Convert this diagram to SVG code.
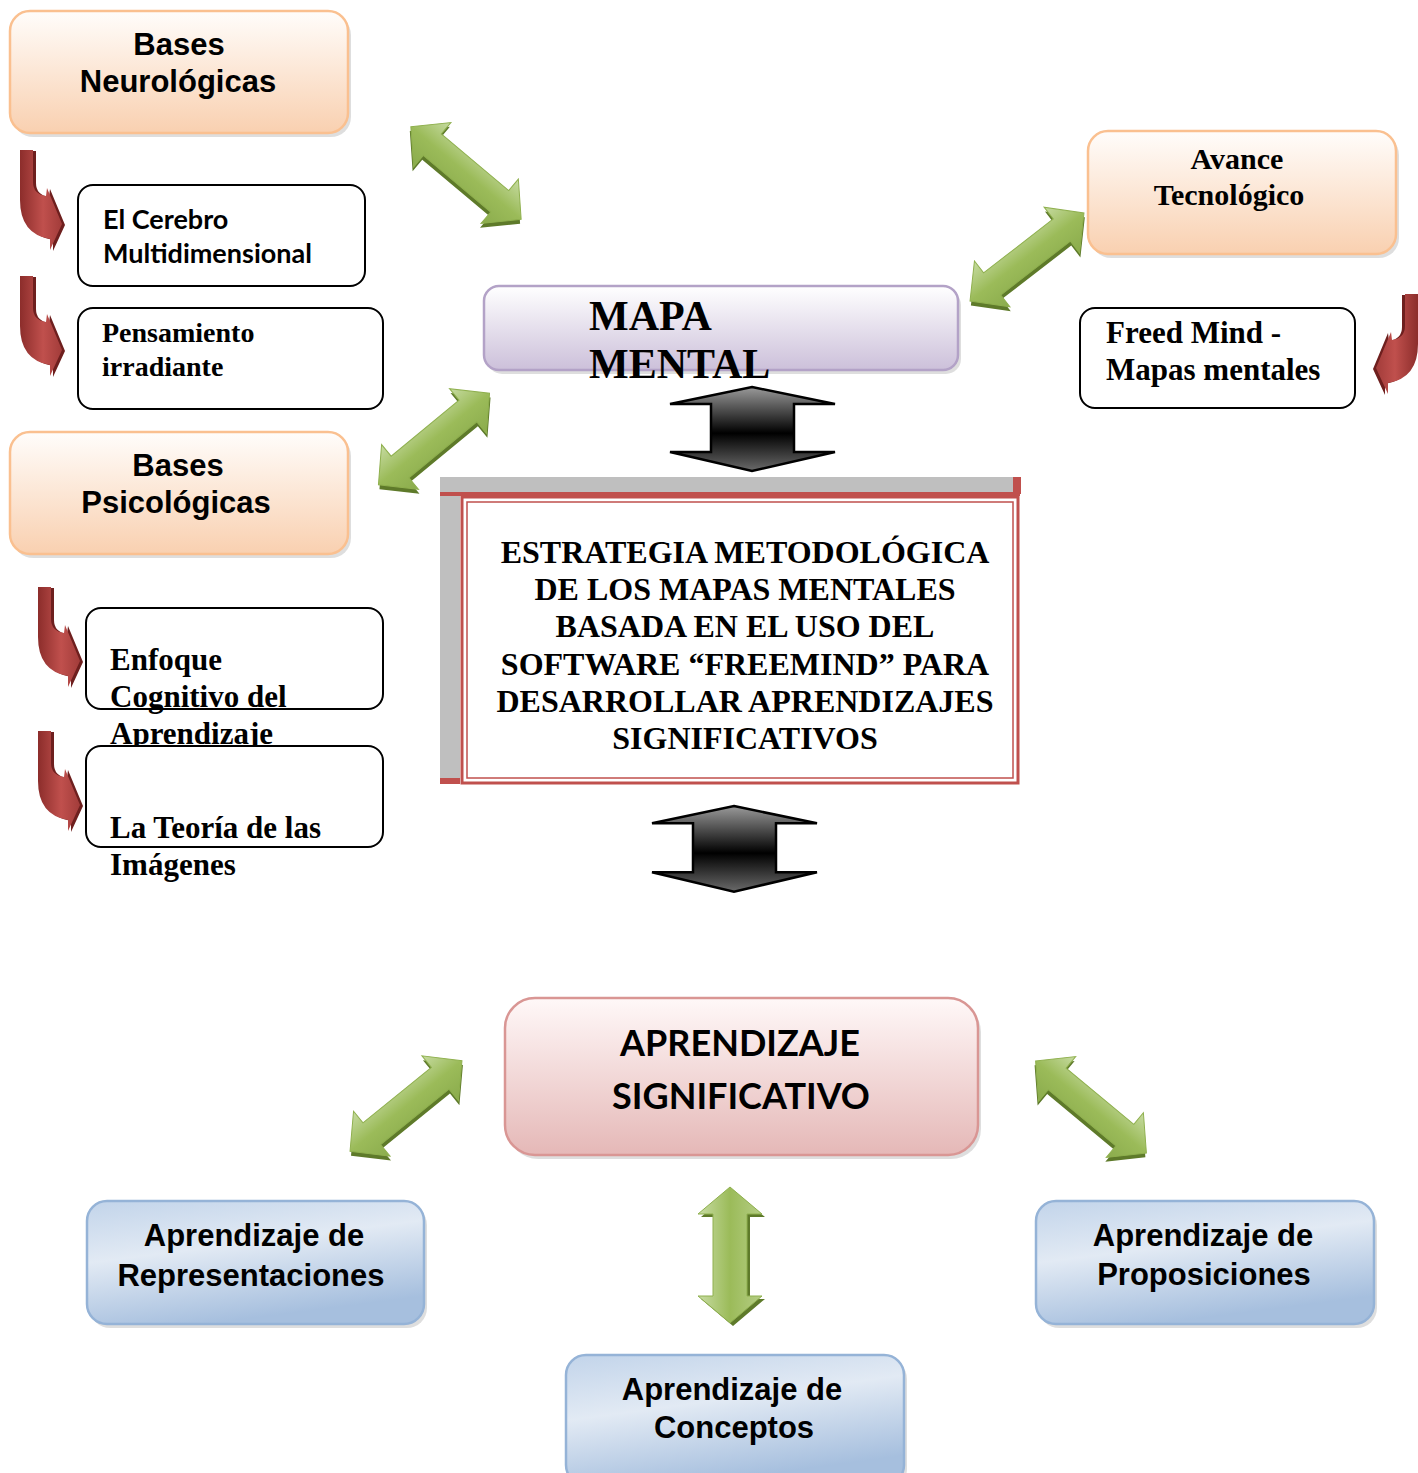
<svg xmlns="http://www.w3.org/2000/svg" xmlns:xlink="http://www.w3.org/1999/xlink" width="1418" height="1473" viewBox="0 0 1418 1473">
<defs>
<linearGradient id="gOrange" x1="0" y1="0" x2="0" y2="1"><stop offset="0" stop-color="#fffdfb"/><stop offset="1" stop-color="#f9d0b0"/></linearGradient>
<linearGradient id="gPurple" x1="0" y1="0" x2="0" y2="1"><stop offset="0" stop-color="#ffffff"/><stop offset="1" stop-color="#ccc0da"/></linearGradient>
<linearGradient id="gPink" x1="0" y1="0" x2="0" y2="1"><stop offset="0" stop-color="#fff8f8"/><stop offset="1" stop-color="#e5b8b7"/></linearGradient>
<linearGradient id="gBlue" x1="0" y1="0" x2="0.35" y2="1"><stop offset="0" stop-color="#c2d4ea"/><stop offset="0.45" stop-color="#e2eaf4"/><stop offset="1" stop-color="#a6bfde"/></linearGradient>
<linearGradient id="gGreen" gradientUnits="userSpaceOnUse" x1="0" y1="-30" x2="0" y2="30"><stop offset="0" stop-color="#c8dca4"/><stop offset="0.5" stop-color="#9bbb59"/><stop offset="1" stop-color="#8aab4c"/></linearGradient>
<linearGradient id="gGreenV" gradientUnits="userSpaceOnUse" x1="-32" y1="0" x2="32" y2="0"><stop offset="0" stop-color="#c8dca4"/><stop offset="0.5" stop-color="#9bbb59"/><stop offset="1" stop-color="#b5cd85"/></linearGradient>
<linearGradient id="gBlack" x1="0" y1="0" x2="0" y2="1"><stop offset="0" stop-color="#9a9a9a"/><stop offset="0.55" stop-color="#000000"/><stop offset="1" stop-color="#6a6a6a"/></linearGradient>
<linearGradient id="gRed" x1="0" y1="0" x2="1" y2="0"><stop offset="0" stop-color="#8c2d2b"/><stop offset="0.55" stop-color="#c0504d"/><stop offset="1" stop-color="#a23c3a"/></linearGradient>
<path id="dblArrow" d="M-72,0 L-44,-29 L-44,-14 L44,-14 L44,-29 L72,0 L44,29 L44,14 L-44,14 L-44,29 Z"/>
<path id="dblArrowV" d="M0,-68 L32,-41 L17,-41 L17,41 L32,41 L0,68 L-32,41 L-17,41 L-17,-41 L-32,-41 Z"/>
<path id="redArrow" d="M0,0 H13 V32 Q13,44 26,46 L27,38 L42,74 L30,100 L30,89 Q0,84 0,50 Z"/>
<path id="blkArrow" d="M82,0 L165,17 L124,17 L124,65 L165,65 L82,84 L0,65 L41,65 L41,17 L0,17 Z"/>
</defs>
<style>
.box-o{fill:url(#gOrange);stroke:#fac090;stroke-width:2.5}
.box-p{fill:url(#gPurple);stroke:#b3a2c7;stroke-width:2.5}
.box-k{fill:url(#gPink);stroke:#d99694;stroke-width:2.5}
.box-b{fill:url(#gBlue);stroke:#95b3d7;stroke-width:2.5}
.box-w{fill:#ffffff;stroke:#000000;stroke-width:2}
.shadow{fill:#000000;opacity:0.13}
.sans{font-family:"Liberation Sans",Arial,sans-serif;font-weight:bold;fill:#000}
.serif{font-family:"Liberation Serif","Times New Roman",serif;font-weight:bold;fill:#000}
.cal{font-family:Lato,"Open Sans",sans-serif;font-weight:bold;fill:#000}
.g-shadow{fill:#5e7a2a}
.g-main{fill:url(#gGreen);stroke:#8fb04e;stroke-width:1}
.gv-main{fill:url(#gGreenV);stroke:#8fb04e;stroke-width:1}
.r-shadow{fill:#6e1f1e}
.r-main{fill:url(#gRed)}
.blk{fill:url(#gBlack);stroke:#000;stroke-width:2.5;stroke-linejoin:miter}
</style>
<rect width="1418" height="1473" fill="#ffffff"/>

<g id="connectors">
  <g transform="translate(466,173) rotate(40)"><use xlink:href="#dblArrow" class="g-shadow" transform="translate(2,4)"/><use xlink:href="#dblArrow" class="g-main"/></g>
  <g transform="translate(1027,257) rotate(-37.7)"><use xlink:href="#dblArrow" class="g-shadow" transform="translate(-2,4)"/><use xlink:href="#dblArrow" class="g-main"/></g>
  <g transform="translate(434,439) rotate(-39.5)"><use xlink:href="#dblArrow" class="g-shadow" transform="translate(-2,4)"/><use xlink:href="#dblArrow" class="g-main"/></g>
  <g transform="translate(406,1106) rotate(-39)"><use xlink:href="#dblArrow" class="g-shadow" transform="translate(-2,4)"/><use xlink:href="#dblArrow" class="g-main"/></g>
  <g transform="translate(1091,1107) rotate(39.7)"><use xlink:href="#dblArrow" class="g-shadow" transform="translate(2,4)"/><use xlink:href="#dblArrow" class="g-main"/></g>
  <g transform="translate(730,1255)"><use xlink:href="#dblArrowV" class="g-shadow" transform="translate(3,3)"/><use xlink:href="#dblArrowV" class="gv-main"/></g>
  <use xlink:href="#blkArrow" class="blk" transform="translate(670,387)"/>
  <use xlink:href="#blkArrow" class="blk" transform="translate(652,806) scale(1,1.02)"/>
  <g transform="translate(20,150)"><use xlink:href="#redArrow" class="r-shadow" transform="translate(3,1)"/><use xlink:href="#redArrow" class="r-main"/></g>
  <g transform="translate(20,276)"><use xlink:href="#redArrow" class="r-shadow" transform="translate(3,1)"/><use xlink:href="#redArrow" class="r-main"/></g>
  <g transform="translate(38,587)"><use xlink:href="#redArrow" class="r-shadow" transform="translate(3,1)"/><use xlink:href="#redArrow" class="r-main"/></g>
  <g transform="translate(38,731)"><use xlink:href="#redArrow" class="r-shadow" transform="translate(3,1)"/><use xlink:href="#redArrow" class="r-main"/></g>
  <g transform="translate(1418,294) scale(-1,1)"><use xlink:href="#redArrow" class="r-shadow" transform="translate(3,1)"/><use xlink:href="#redArrow" class="r-main"/></g>
</g>

<g id="bases-neurologicas">
  <rect class="shadow" x="13" y="15" width="338" height="122" rx="20"/>
  <rect class="box-o" x="10" y="11" width="338" height="122" rx="20"/>
  <text class="sans" font-size="31" text-anchor="middle" x="179" y="55">Bases</text>
  <text class="sans" font-size="31" text-anchor="middle" x="178" y="92">Neurológicas</text>
</g>

<g id="el-cerebro">
  <rect class="box-w" x="78" y="185" width="287" height="101" rx="15"/>
  <text class="cal" font-size="27" x="103" y="229">El Cerebro</text>
  <text class="cal" font-size="27" x="103" y="263">Multidimensional</text>
</g>

<g id="pensamiento">
  <rect class="box-w" x="78" y="308" width="305" height="101" rx="15"/>
  <text class="serif" font-size="28" x="102" y="342">Pensamiento</text>
  <text class="serif" font-size="28" x="102" y="376">irradiante</text>
</g>

<g id="bases-psicologicas">
  <rect class="shadow" x="13" y="436" width="338" height="122" rx="20"/>
  <rect class="box-o" x="10" y="432" width="338" height="122" rx="20"/>
  <text class="sans" font-size="31" text-anchor="middle" x="178" y="476">Bases</text>
  <text class="sans" font-size="31" text-anchor="middle" x="176" y="513">Psicológicas</text>
</g>

<g id="enfoque">
  <rect class="box-w" x="86" y="608" width="297" height="101" rx="15"/>
  <text class="serif" font-size="31" x="110" y="670">Enfoque</text>
  <text class="serif" font-size="31" x="110" y="707">Cognitivo del</text>
  <text class="serif" font-size="31" x="110" y="744">Aprendizaje</text>
</g>

<g id="teoria-imagenes">
  <rect class="box-w" x="86" y="746" width="297" height="101" rx="15"/>
  <text class="serif" font-size="31" x="110" y="838">La Teoría de las</text>
  <text class="serif" font-size="31" x="110" y="875">Imágenes</text>
</g>

<g id="mapa-mental">
  <rect class="shadow" x="487" y="290" width="474" height="84" rx="15"/>
  <rect class="box-p" x="484" y="286" width="474" height="84" rx="15"/>
  <text class="serif" font-size="42" x="589" y="330">MAPA</text>
  <text class="serif" font-size="42" x="589" y="378">MENTAL</text>
</g>

<g id="avance-tecnologico">
  <rect class="shadow" x="1091" y="135" width="308" height="123" rx="20"/>
  <rect class="box-o" x="1088" y="131" width="308" height="123" rx="20"/>
  <text class="serif" font-size="30" text-anchor="middle" x="1237" y="169">Avance</text>
  <text class="serif" font-size="30" text-anchor="middle" x="1229" y="205">Tecnológico</text>
</g>

<g id="freed-mind">
  <rect class="box-w" x="1080" y="308" width="275" height="100" rx="15"/>
  <text class="serif" font-size="31" x="1106" y="343">Freed Mind -</text>
  <text class="serif" font-size="31" x="1106" y="380">Mapas mentales</text>
</g>

<g id="estrategia">
  <rect x="440" y="477" width="580" height="16" fill="#bfbfbf"/>
  <rect x="1013" y="477" width="8" height="17" fill="#c0504d"/>
  <rect x="440" y="492" width="20" height="291" fill="#bfbfbf"/>
  <rect x="440" y="492" width="580" height="4" fill="#c0504d"/>
  <rect x="440" y="778" width="20" height="6" fill="#c0504d"/>
  <rect x="462" y="497" width="556" height="286" fill="#ffffff" stroke="#c0504d" stroke-width="3"/>
  <rect x="467" y="502" width="546" height="276" fill="none" stroke="#c0504d" stroke-width="1.5"/>
  <g class="serif" font-size="32" text-anchor="middle">
    <text x="745" y="563">ESTRATEGIA METODOLÓGICA</text>
    <text x="745" y="600">DE LOS MAPAS MENTALES</text>
    <text x="745" y="637">BASADA EN EL USO DEL</text>
    <text x="745" y="675">SOFTWARE “FREEMIND” PARA</text>
    <text x="745" y="712">DESARROLLAR APRENDIZAJES</text>
    <text x="745" y="749">SIGNIFICATIVOS</text>
  </g>
</g>

<g id="aprendizaje-significativo">
  <rect class="shadow" x="508" y="1002" width="473" height="157" rx="30"/>
  <rect class="box-k" x="505" y="998" width="473" height="157" rx="30"/>
  <text class="cal" font-size="36" text-anchor="middle" x="740" y="1056">APRENDIZAJE</text>
  <text class="cal" font-size="36" text-anchor="middle" x="741" y="1109">SIGNIFICATIVO</text>
</g>

<g id="aprendizaje-representaciones">
  <rect class="shadow" x="90" y="1205" width="337" height="123" rx="20"/>
  <rect class="box-b" x="87" y="1201" width="337" height="123" rx="20"/>
  <text class="sans" font-size="31" text-anchor="middle" x="254" y="1246">Aprendizaje de</text>
  <text class="sans" font-size="31" text-anchor="middle" x="251" y="1286">Representaciones</text>
</g>

<g id="aprendizaje-proposiciones">
  <rect class="shadow" x="1039" y="1205" width="338" height="123" rx="20"/>
  <rect class="box-b" x="1036" y="1201" width="338" height="123" rx="20"/>
  <text class="sans" font-size="31" text-anchor="middle" x="1203" y="1246">Aprendizaje de</text>
  <text class="sans" font-size="31" text-anchor="middle" x="1204" y="1285">Proposiciones</text>
</g>

<g id="aprendizaje-conceptos">
  <rect class="shadow" x="569" y="1359" width="338" height="130" rx="20"/>
  <rect class="box-b" x="566" y="1355" width="338" height="130" rx="20"/>
  <text class="sans" font-size="31" text-anchor="middle" x="732" y="1400">Aprendizaje de</text>
  <text class="sans" font-size="31" text-anchor="middle" x="734" y="1438">Conceptos</text>
</g>
</svg>
